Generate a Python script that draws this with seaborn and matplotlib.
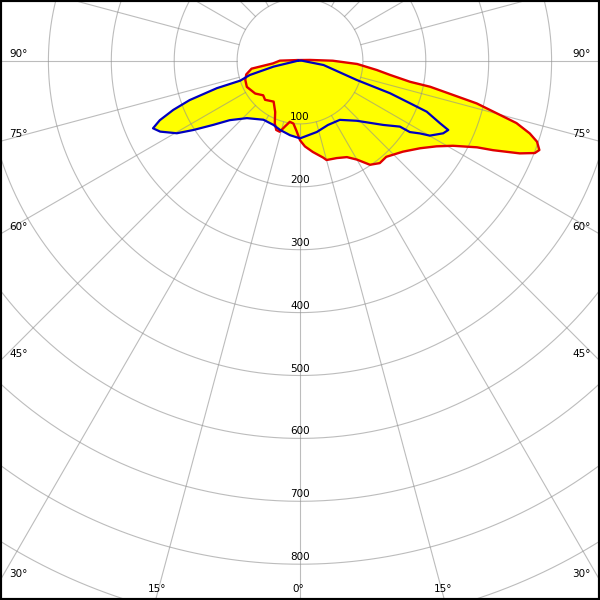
import numpy as np
import pandas as pd
import matplotlib
matplotlib.use("Agg")
import matplotlib.pyplot as plt
import seaborn as sns

# Luminous intensity curves (angle from nadir in degrees, negative = left; cd/klm)
red_angle = [-107, -91, -85, -81, -76, -71, -64, -54, -47, -42, -33, -26, -22, -19, -16,
             -13, -9.5, -6, -2.7, 0, 3.3, 8, 13.5, 15, 20.7, 26, 30, 34, 38, 42, 48.6,
             54, 58, 61, 64, 65.2, 67.2, 68.6, 69.6, 71.2, 72.5, 74, 75.1, 76.5, 77.5,
             78.8, 79.3, 81.2, 83.3, 87, 90.5, 96]
red_cd = [5, 32, 43, 78, 88, 92, 94, 88, 80, 83, 77, 90, 107, 116, 117,
          107, 98, 100, 112, 126, 136, 146, 158, 163, 165, 170, 181, 199, 206, 205, 218,
          236, 256, 278, 313, 338, 379, 401, 406, 398, 383, 358, 324, 289, 249,
          211, 178, 145, 123, 91, 52, 16]

blue_angle = [-100, -78, -74.4, -71.8, -71.9, -70.5, -68.9, -67.1, -65.4, -63.2, -59.6,
              -57.1, -53.6, -49.9, -42.9, -31.9, -22.6, -16.2, -7.7, 0, 13.3, 23.6, 34.1,
              43.5, 52.5, 56.7, 57.1, 58.9, 60.1, 63.2, 65.05, 66, 68.2, 69, 70.3, 71.5,
              80.3, 100]
blue_cd = [3, 43, 83, 100, 139, 186, 216, 242, 257, 249, 227,
           202, 171, 146, 124, 110, 110, 114, 119, 123, 116, 111, 113,
           131, 167, 190, 208, 223, 238, 255, 260, 244, 217, 187, 152, 95,
           38, 3]

radial_ticks = [100, 200, 300, 400, 500, 600, 700, 800]
angle_ticks = [0, 15, 30, 45, 60, 75, 90]

sns.set_style("white")
plt.rcParams["font.family"] = ["DejaVu Sans"]

S = 0.629  # pixels per cd at 100 dpi
fig = plt.figure(figsize=(6, 6), dpi=100)
ax = fig.add_axes([0, 0, 1, 1])
ax.set_xlim(-300 / S, 300 / S)
ax.set_ylim(-539 / S, 61 / S)
ax.set_aspect("equal")
ax.set_xticks([])
ax.set_yticks([])
for sp in ax.spines.values():
    sp.set_color("black")
    sp.set_linewidth(3)


def to_xy(angle, cd):
    t = np.radians(np.asarray(angle, float))
    r = np.asarray(cd, float)
    x = r * np.sin(t)
    y = -r * np.cos(t)
    return np.append(x, x[0]), np.append(y, y[0])


rx, ry = to_xy(red_angle, red_cd)
bx, by = to_xy(blue_angle, blue_cd)

ax.fill(rx, ry, color="#ffff00", lw=0, zorder=1)
ax.fill(bx, by, color="#ffff00", lw=0, zorder=1)

# grid
gcol = "#909090"
th = np.linspace(0, 2 * np.pi, 721)
for r in range(100, 1300, 100):
    ax.plot(r * np.sin(th), r * np.cos(th), color=gcol, lw=0.8, alpha=0.6, zorder=2)
for a in range(0, 360, 15):
    t = np.radians(a)
    ax.plot([100 * np.sin(t), 1500 * np.sin(t)], [-100 * np.cos(t), -1500 * np.cos(t)],
            color=gcol, lw=0.8, alpha=0.6, zorder=2)

red_df = pd.DataFrame({"x": rx, "y": ry})
blue_df = pd.DataFrame({"x": bx, "y": by})
sns.lineplot(data=red_df, x="x", y="y", sort=False, estimator=None, color="#e00000",
             lw=1.7, ax=ax, zorder=4)
sns.lineplot(data=blue_df, x="x", y="y", sort=False, estimator=None, color="#0000c0",
             lw=1.6, ax=ax, zorder=5)
ax.set_xlabel("")
ax.set_ylabel("")

fs = 7.5
tc = "black"
for r in radial_ticks:
    ax.text(0, -r + 7 / S, str(r), ha="center", va="center", fontsize=fs, color=tc, zorder=6)

for a in angle_ticks:
    if a == 0:
        ax.text(-2 / S, -528 / S, "0°", ha="center", va="center", fontsize=fs, color=tc)
        continue
    t = np.radians(a)
    dy = 300 / np.tan(t)
    if 61 + dy > 600:
        px = 538 * np.tan(t)
        for sgn in (-1, 1):
            ax.text(sgn * (px - 1) / S, -528 / S, f"{a}°", ha="center", va="center",
                    fontsize=fs, color=tc)
    else:
        y = -(dy - 7) / S
        for sgn in (-1, 1):
            ax.text(sgn * 281.5 / S, y, f"{a}°", ha="center", va="center", fontsize=fs,
                    color=tc)

fig.savefig("out.png", dpi=100)
